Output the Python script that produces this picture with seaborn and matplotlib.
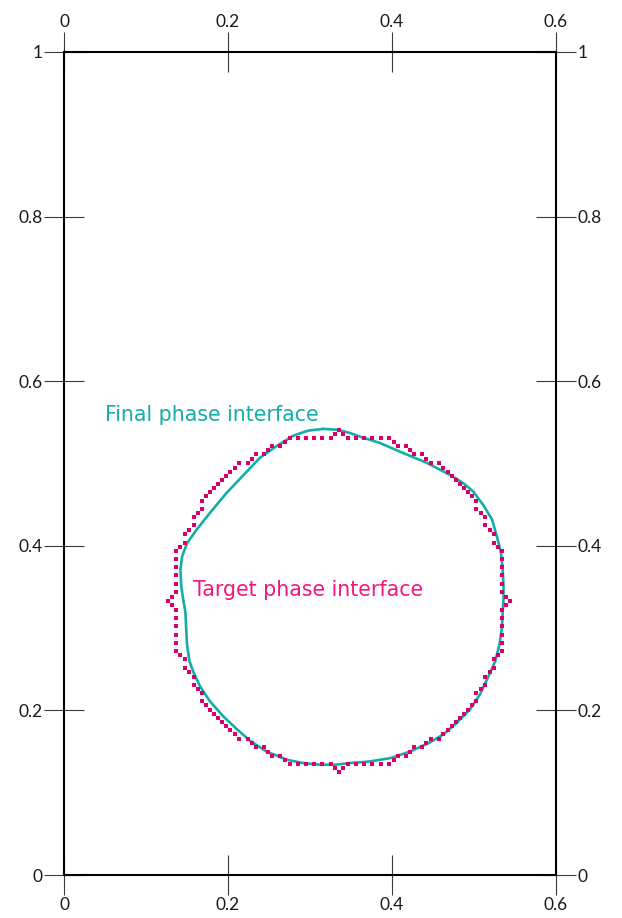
import matplotlib
matplotlib.use("Agg")
import matplotlib.pyplot as plt
import seaborn as sns

# Axis ticks
x_ticks = [0, 0.2, 0.4, 0.6]
x_tick_labels = ["0", "0.2", "0.4", "0.6"]
y_ticks = [0, 0.2, 0.4, 0.6, 0.8, 1]
y_tick_labels = ["0", "0.2", "0.4", "0.6", "0.8", "1"]

# Final (optimised) phase interface, traced clockwise from the top
final_x = [0.316, 0.334, 0.349, 0.363, 0.385, 0.413, 0.442, 0.471, 0.487, 0.499,
           0.511, 0.522, 0.528, 0.533, 0.535, 0.536, 0.536, 0.535, 0.534, 0.531,
           0.526, 0.517, 0.507, 0.495, 0.479, 0.463, 0.446, 0.422, 0.398, 0.373,
           0.349, 0.331, 0.312, 0.292, 0.272, 0.247, 0.227, 0.211, 0.194, 0.178,
           0.166, 0.158, 0.153, 0.150, 0.149, 0.148, 0.145, 0.143, 0.142, 0.144,
           0.150, 0.162, 0.178, 0.198, 0.219, 0.239, 0.259, 0.280, 0.298]
final_y = [0.542, 0.541, 0.537, 0.532, 0.525, 0.513, 0.501, 0.486, 0.476, 0.466,
           0.450, 0.432, 0.411, 0.391, 0.371, 0.351, 0.335, 0.320, 0.300, 0.280,
           0.260, 0.240, 0.219, 0.201, 0.185, 0.171, 0.161, 0.150, 0.142, 0.138,
           0.136, 0.134, 0.134, 0.136, 0.140, 0.150, 0.163, 0.177, 0.193, 0.211,
           0.229, 0.246, 0.260, 0.280, 0.300, 0.320, 0.337, 0.351, 0.371, 0.387,
           0.403, 0.420, 0.440, 0.464, 0.486, 0.507, 0.521, 0.534, 0.540]

# Target phase interface: contour nodes of the discretised circle, clockwise from the top
target_x = [
    0.335, 0.340, 0.346, 0.356, 0.366, 0.376, 0.386, 0.396, 0.402, 0.407,
    0.417, 0.422, 0.427, 0.437, 0.442, 0.447, 0.457, 0.462, 0.468, 0.473,
    0.478, 0.483, 0.488, 0.493, 0.498, 0.503, 0.503, 0.508, 0.513, 0.513,
    0.519, 0.524, 0.524, 0.529, 0.534, 0.534, 0.534, 0.534, 0.534, 0.534,
    0.539, 0.544,
    0.539, 0.534, 0.534, 0.534, 0.534, 0.534, 0.534, 0.529, 0.524, 0.524,
    0.519, 0.513, 0.513, 0.508, 0.503, 0.503, 0.498, 0.493, 0.488, 0.483,
    0.478, 0.473, 0.468, 0.462, 0.457, 0.447, 0.442, 0.437, 0.427, 0.422,
    0.417, 0.407, 0.402, 0.396, 0.386, 0.376, 0.366, 0.356, 0.346, 0.340,
    0.335,
    0.331, 0.325, 0.315, 0.305, 0.295, 0.285, 0.275, 0.269, 0.264, 0.254,
    0.249, 0.244, 0.234, 0.229, 0.224, 0.214, 0.209, 0.203, 0.198, 0.193,
    0.188, 0.183, 0.178, 0.173, 0.168, 0.168, 0.163, 0.158, 0.158, 0.152,
    0.147, 0.147, 0.142, 0.137, 0.137, 0.137, 0.137, 0.137, 0.137, 0.132,
    0.127,
    0.132, 0.137, 0.137, 0.137, 0.137, 0.137, 0.137, 0.142, 0.147, 0.147,
    0.152, 0.158, 0.158, 0.163, 0.168, 0.168, 0.173, 0.178, 0.183, 0.188,
    0.193, 0.198, 0.203, 0.209, 0.214, 0.224, 0.229, 0.234, 0.244, 0.249,
    0.254, 0.264, 0.269, 0.275, 0.285, 0.295, 0.305, 0.315, 0.325, 0.331,
]
target_y = [
    0.541, 0.536, 0.531, 0.531, 0.531, 0.531, 0.531, 0.531, 0.526, 0.521,
    0.521, 0.516, 0.511, 0.511, 0.506, 0.501, 0.501, 0.495, 0.490, 0.485,
    0.480, 0.475, 0.470, 0.465, 0.460, 0.455, 0.445, 0.440, 0.435, 0.425,
    0.419, 0.414, 0.404, 0.399, 0.394, 0.384, 0.374, 0.364, 0.354, 0.344,
    0.338, 0.333,
    0.328, 0.322, 0.312, 0.302, 0.292, 0.282, 0.272, 0.267, 0.262, 0.252,
    0.247, 0.241, 0.231, 0.226, 0.221, 0.211, 0.206, 0.201, 0.196, 0.191,
    0.186, 0.181, 0.176, 0.171, 0.165, 0.165, 0.160, 0.155, 0.155, 0.150,
    0.145, 0.145, 0.140, 0.135, 0.135, 0.135, 0.135, 0.135, 0.135, 0.130,
    0.125,
    0.130, 0.135, 0.135, 0.135, 0.135, 0.135, 0.135, 0.140, 0.145, 0.145,
    0.150, 0.155, 0.155, 0.160, 0.165, 0.165, 0.171, 0.176, 0.181, 0.186,
    0.191, 0.196, 0.201, 0.206, 0.211, 0.221, 0.226, 0.231, 0.241, 0.247,
    0.252, 0.262, 0.267, 0.272, 0.282, 0.292, 0.302, 0.312, 0.322, 0.328,
    0.333,
    0.338, 0.344, 0.354, 0.364, 0.374, 0.384, 0.394, 0.399, 0.404, 0.414,
    0.419, 0.425, 0.435, 0.440, 0.445, 0.455, 0.460, 0.465, 0.470, 0.475,
    0.480, 0.485, 0.490, 0.495, 0.501, 0.501, 0.506, 0.511, 0.511, 0.516,
    0.521, 0.521, 0.526, 0.531, 0.531, 0.531, 0.531, 0.531, 0.531, 0.536,
]

label_final = "Final phase interface"
label_target = "Target phase interface"

TEAL = "#14ADA7"
PINK_TEXT = "#F2167E"
PINK_DOTS = "#D9006E"

sns.set_theme(style="white")
plt.rcParams["font.family"] = ["Lato", "DejaVu Sans"]

fig = plt.figure(figsize=(6.22, 9.18), dpi=100)
ax = fig.add_axes([64 / 622, 43 / 918, 492 / 622, 823 / 918])

# closed outline of the final interface
loop_x = final_x + final_x[:1]
loop_y = final_y + final_y[:1]
sns.lineplot(x=loop_x, y=loop_y, sort=False, estimator=None, color=TEAL,
             linewidth=1.9, ax=ax, zorder=3)

sns.scatterplot(x=target_x, y=target_y, marker="s", s=8, color=PINK_DOTS,
                linewidth=0, ax=ax, zorder=4)

ax.text(0.050, 0.5511, label_final, color=TEAL, fontsize=14.8,
        family=["DejaVu Sans"], va="baseline", ha="left")
ax.text(0.1577, 0.3386, label_target, color=PINK_TEXT, fontsize=14.8,
        family=["DejaVu Sans"], va="baseline", ha="left")

ax.set_xlim(0, 0.6)
ax.set_ylim(0, 1)
ax.set_xticks(x_ticks, x_tick_labels)
ax.set_yticks(y_ticks, y_tick_labels)

for side in ["top", "bottom", "left", "right"]:
    ax.spines[side].set_visible(True)
    ax.spines[side].set_color("black")
    ax.spines[side].set_linewidth(1.5)

ax.tick_params(axis="both", which="major", direction="inout", length=28.8,
               width=0.8, color="#3a3a3a", labelsize=12.5, labelcolor="#1a1a1a",
               top=True, bottom=True, left=True, right=True,
               labeltop=True, labelbottom=True, labelleft=True, labelright=True)
ax.tick_params(axis="x", pad=1.5)
ax.tick_params(axis="y", pad=1.0)
ax.set_xlabel("")
ax.set_ylabel("")

fig.savefig("out.png", dpi=100)
